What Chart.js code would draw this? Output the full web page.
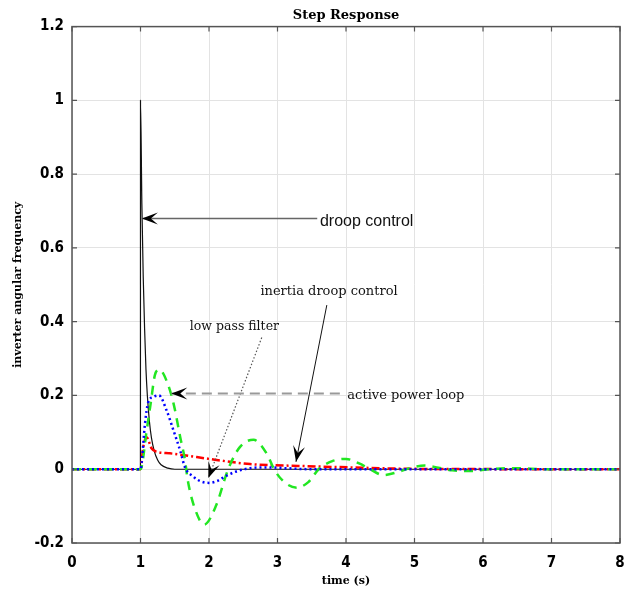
<!DOCTYPE html>
<html>
<head>
<meta charset="utf-8">
<script src="https://cdn.jsdelivr.net/npm/chart.js@4.4.1/dist/chart.umd.min.js"></script>
<style>
  body { margin: 0; background: #fff; }
  canvas { display: block; }
</style>
</head>
<body>
<canvas id="stepChart" width="629" height="595"></canvas>
<script>
// values
const xTicks = [0, 1, 2, 3, 4, 5, 6, 7, 8];
const yTicks = [-0.2, 0, 0.2, 0.4, 0.6, 0.8, 1, 1.2];

// droop control (black)
const droopT = [0, 0.999, 1.0, 1.02, 1.04, 1.06, 1.08, 1.1, 1.13, 1.16, 1.2, 1.25, 1.3, 1.4, 1.5, 8];
const droopY = [0, 0, 1.0, 0.72, 0.52, 0.38, 0.27, 0.2, 0.13, 0.085, 0.05, 0.025, 0.012, 0.003, 0, 0];

// active power loop (green dashed)
const powerT = [0, 1.0, 1.09, 1.15, 1.21, 1.275, 1.38, 1.48, 1.58, 1.65, 1.69, 1.8, 1.93, 2.1, 2.28, 2.45, 2.65, 2.85, 2.95, 3.1, 3.28, 3.45, 3.6, 3.8, 4.0, 4.2, 4.35, 4.55, 4.75, 4.95, 5.15, 5.35, 5.55, 5.8, 6.1, 6.4, 7.0, 8];
const powerY = [0, 0, 0.105, 0.18, 0.255, 0.27, 0.24, 0.18, 0.087, 0.024, -0.03, -0.11, -0.15, -0.1, 0, 0.06, 0.08, 0.04, 0, -0.035, -0.05, -0.035, 0, 0.022, 0.028, 0.015, 0, -0.016, -0.008, 0.004, 0.01, 0.004, -0.003, -0.005, 0, 0.003, 0, 0];

// low pass filter (blue dotted)
const filterT = [0, 1.0, 1.066, 1.11, 1.2, 1.27, 1.38, 1.48, 1.58, 1.65, 1.77, 1.88, 2.0, 2.12, 2.25, 2.4, 2.6, 2.85, 3.1, 3.5, 8];
const filterY = [0, 0, 0.125, 0.18, 0.197, 0.2, 0.16, 0.106, 0.05, 0.005, -0.02, -0.033, -0.037, -0.032, -0.018, -0.006, 0.003, 0.005, 0.003, 0, 0];

// inertia droop control (red dash-dot)
const inertiaT = [0, 1.0, 1.04, 1.09, 1.16, 1.24, 1.43, 1.82, 2.11, 2.6, 3.3, 4.06, 5.0, 8];
const inertiaY = [0, 0, 0.06, 0.087, 0.057, 0.047, 0.043, 0.033, 0.025, 0.014, 0.009, 0.005, 0.001, 0];

const toPoints = (ts, ys) => ts.map((t, i) => ({ x: t, y: ys[i] }));

// arrows + texts, in data units
const serifNote = '13px "DejaVu Serif", serif';
const notes = [
  { text: 'droop control', font: '16px "Liberation Sans", Arial', tx: 3.62, ty: 0.672, from: [3.58, 0.68], to: [1.02, 0.68], line: '#666', dash: [], width: 1.5 },
  { text: 'inertia droop control', font: serifNote, tx: 2.75, ty: 0.481, from: [3.72, 0.445], to: [3.27, 0.02], line: '#111', dash: [], width: 1 },
  { text: 'low pass filter', font: '12.5px "DejaVu Serif", serif', tx: 1.72, ty: 0.385, from: [2.77, 0.357], to: [1.99, -0.024], line: '#555', dash: [1.5, 2], width: 1.2 },
  { text: 'active power loop', font: serifNote, tx: 4.02, ty: 0.2, from: [3.91, 0.205], to: [1.45, 0.205], line: '#999', dash: [10, 6], width: 2 }
];

function arrowHead(ctx, x0, y0, x1, y1) {
  const a = Math.atan2(y1 - y0, x1 - x0);
  const len = 16, half = 6, notch = 9;
  ctx.save();
  ctx.translate(x1, y1);
  ctx.rotate(a);
  ctx.beginPath();
  ctx.moveTo(0, 0);
  ctx.lineTo(-len, -half);
  ctx.lineTo(-notch, 0);
  ctx.lineTo(-len, half);
  ctx.closePath();
  ctx.fillStyle = '#000';
  ctx.fill();
  ctx.restore();
}

const notesPlugin = {
  id: 'notes',
  afterDatasetsDraw(chart) {
    const ctx = chart.ctx, xs = chart.scales.x, ys = chart.scales.y;
    notes.forEach(n => {
      const x0 = xs.getPixelForValue(n.from[0]), y0 = ys.getPixelForValue(n.from[1]);
      const x1 = xs.getPixelForValue(n.to[0]), y1 = ys.getPixelForValue(n.to[1]);
      ctx.save();
      ctx.strokeStyle = n.line;
      ctx.lineWidth = n.width;
      ctx.setLineDash(n.dash);
      ctx.beginPath();
      ctx.moveTo(x0, y0);
      ctx.lineTo(x1, y1);
      ctx.stroke();
      ctx.setLineDash([]);
      arrowHead(ctx, x0, y0, x1, y1);
      ctx.font = n.font;
      ctx.fillStyle = '#111';
      ctx.textBaseline = 'middle';
      ctx.textAlign = 'left';
      ctx.fillText(n.text, xs.getPixelForValue(n.tx), ys.getPixelForValue(n.ty));
      ctx.restore();
    });
  }
};

// box round the plot with small inner ticks
const framePlugin = {
  id: 'frame',
  afterDraw(chart) {
    const ctx = chart.ctx, a = chart.chartArea, xs = chart.scales.x, ys = chart.scales.y;
    ctx.save();
    ctx.strokeStyle = '#555';
    ctx.lineWidth = 1.5;
    ctx.strokeRect(a.left, a.top, a.right - a.left, a.bottom - a.top);
    ctx.lineWidth = 1.2;
    ctx.beginPath();
    xTicks.forEach(v => {
      const p = xs.getPixelForValue(v);
      ctx.moveTo(p, a.bottom); ctx.lineTo(p, a.bottom - 5);
      ctx.moveTo(p, a.top); ctx.lineTo(p, a.top + 5);
    });
    yTicks.forEach(v => {
      const p = ys.getPixelForValue(v);
      ctx.moveTo(a.left, p); ctx.lineTo(a.left + 5, p);
      ctx.moveTo(a.right, p); ctx.lineTo(a.right - 5, p);
    });
    ctx.stroke();
    ctx.restore();
  }
};

const tickFont = { family: '"Liberation Sans Narrow", "DejaVu Sans Condensed", "Liberation Sans"', size: 15, weight: 'bold' };
const labelFont = { family: '"DejaVu Serif", serif', size: 11, weight: 'bold' };

new Chart(document.getElementById('stepChart'), {
  type: 'line',
  data: {
    datasets: [
      { label: 'droop control', data: toPoints(droopT, droopY), borderColor: '#111', borderWidth: 1.2, order: 4, cubicInterpolationMode: 'monotone' },
      { label: 'inertia droop control', data: toPoints(inertiaT, inertiaY), borderColor: '#ff0000', borderWidth: 2.5, borderDash: [8, 3, 2, 3], order: 3, cubicInterpolationMode: 'monotone' },
      { label: 'active power loop', data: toPoints(powerT, powerY), borderColor: '#22e622', borderWidth: 2.5, borderDash: [9, 7], order: 2, cubicInterpolationMode: 'monotone' },
      { label: 'low pass filter', data: toPoints(filterT, filterY), borderColor: '#0000ff', borderWidth: 2.5, borderDash: [2, 3], order: 1, cubicInterpolationMode: 'monotone' }
    ]
  },
  options: {
    responsive: false,
    animation: false,
    layout: { padding: { right: 9 } },
    elements: { point: { radius: 0 }, line: { fill: false } },
    plugins: {
      legend: { display: false },
      tooltip: { enabled: false },
      title: {
        display: true,
        fullSize: false,
        text: 'Step Response',
        color: '#000',
        font: { family: '"DejaVu Serif", serif', size: 13, weight: 'bold' },
        padding: { top: 8, bottom: 3 }
      }
    },
    scales: {
      x: {
        type: 'linear',
        min: 0,
        max: 8,
        afterBuildTicks: s => { s.ticks = xTicks.map(v => ({ value: v })); },
        afterFit: s => { s.height = 52; s.paddingLeft = 0; s.paddingRight = 0; },
        grid: { color: '#e3e3e3', drawTicks: false },
        border: { display: false },
        ticks: { color: '#000', font: tickFont, padding: 11, maxRotation: 0 },
        title: {
          display: true,
          text: 'time (s)',
          color: '#000',
          font: labelFont,
          padding: { top: 0, bottom: 7 }
        }
      },
      y: {
        min: -0.2,
        max: 1.2,
        afterBuildTicks: s => { s.ticks = yTicks.map(v => ({ value: v })); },
        afterFit: s => { s.width = 72; },
        grid: { color: '#e3e3e3', drawTicks: false },
        border: { display: false },
        ticks: { color: '#000', font: tickFont, padding: 8, callback: v => String(Number(v.toFixed(1))) },
        title: {
          display: true,
          text: 'inverter angular frequency',
          color: '#000',
          font: labelFont,
          padding: { top: 12, bottom: 0 }
        }
      }
    }
  },
  plugins: [notesPlugin, framePlugin]
});
</script>
</body>
</html>
